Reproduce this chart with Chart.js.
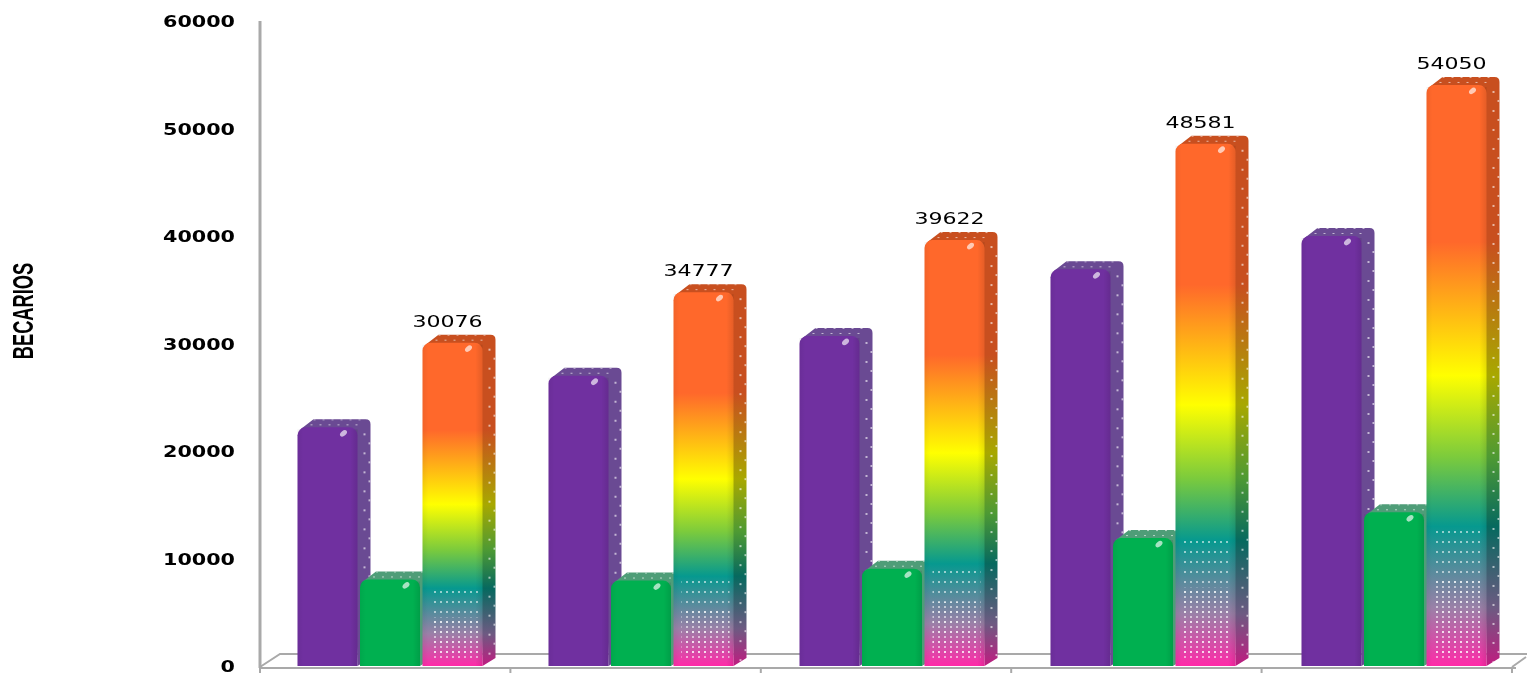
<!DOCTYPE html>
<html>
<head>
<meta charset="utf-8">
<style>
  html, body { margin: 0; padding: 0; background: #fff; overflow: hidden; }
  #wrap { width: 1527px; height: 673px; }
</style>
<script src="https://cdn.jsdelivr.net/npm/chart.js@4"></script>
</head>
<body>
<div id="wrap"><canvas id="chart" width="1527" height="673"></canvas></div>
<script>
// values (x labels are cropped off in the original)
const categories = ['1', '2', '3', '4', '5'];
const purpleValues = [22200, 27000, 30700, 36900, 40000];
const greenValues = [8050, 7950, 9050, 11900, 14300];
const totalValues = [30076, 34777, 39622, 48581, 54050];
const yTicks = [0, 10000, 20000, 30000, 40000, 50000, 60000];
const axisTitle = 'BECARIOS';

const DX = 13, DY = 8;   // depth of the fake 3d

function rainbow(ctx, top, bottom, dark) {
  const g = ctx.createLinearGradient(0, top, 0, bottom);
  const stops = dark
    ? [[0, '#c84f1f'], [0.27, '#c84f1f'], [0.5, '#a8a800'], [0.64, '#4e9a33'], [0.76, '#06695f'], [0.9, '#6d5a82'], [1, '#c01c80']]
    : [[0, '#ff682b'], [0.27, '#ff682b'], [0.5, '#ffff00'], [0.64, '#7ccb3c'], [0.76, '#06998f'], [0.9, '#9b80a8'], [1, '#ff2aa8']];
  stops.forEach(s => g.addColorStop(s[0], s[1]));
  return g;
}

// white dot raster for the lower part of the rainbow bars
function dotPattern(ctx, size) {
  const c = document.createElement('canvas');
  c.width = 6; c.height = size;
  const p = c.getContext('2d');
  p.fillStyle = 'rgba(255,255,255,0.55)';
  p.fillRect(2, 1, 2, 2);
  return ctx.createPattern(c, 'repeat');
}

function stretchedText(ctx, text, x, y, sx, align) {
  ctx.save();
  ctx.translate(x, y);
  ctx.scale(sx, 1);
  ctx.textAlign = align;
  ctx.textBaseline = 'middle';
  ctx.fillText(text, 0, 0);
  ctx.restore();
}

// side and top panel of one bar, taken from the bar element
function drawSide(ctx, el, color) {
  const l = el.x - el.width / 2, r = el.x + el.width / 2, t = el.y, b = el.base;
  ctx.save();
  ctx.beginPath();
  ctx.moveTo(l + 3, t + 2);
  ctx.lineTo(l + 3 + DX, t - DY);
  ctx.lineTo(r + DX - 5, t - DY);
  ctx.quadraticCurveTo(r + DX, t - DY, r + DX, t - DY + 5);
  ctx.lineTo(r + DX, b - DY);
  ctx.lineTo(r, b);
  ctx.lineTo(r - 6, t + 4);
  ctx.closePath();
  ctx.fillStyle = color === 'rainbow' ? rainbow(ctx, t, b, true) : color;
  ctx.fill();
  ctx.clip();
  // white speckle down the side and over the top
  ctx.fillStyle = 'rgba(255,255,255,0.6)';
  for (let yy = t + 6; yy < b - 2; yy += 19) {
    ctx.fillRect(r + 6, yy, 2, 2);
    ctx.fillRect(r + 11, yy + 9, 2, 2);
  }
  for (let xx = l + 16; xx < r + 8; xx += 9) {
    ctx.fillRect(xx, t - DY, 2, 1);
    ctx.fillRect(xx - 3, t - 3, 2, 1);
  }
  ctx.restore();
}

// floor, wall, tick marks and the side panels, all behind the bar fronts
const frame = {
  id: 'frame',
  beforeDatasetsDraw(chart) {
    const { ctx, chartArea: a } = chart;
    const y = chart.scales.y;
    const x0 = a.left - 4.5, step = 250.4, base = y.getPixelForValue(0);
    ctx.save();
    ctx.strokeStyle = '#a9a9a9';
    ctx.lineWidth = 3;
    ctx.beginPath(); ctx.moveTo(x0, y.getPixelForValue(60000)); ctx.lineTo(x0, base + 2); ctx.stroke();
    ctx.lineWidth = 2;
    ctx.beginPath(); ctx.moveTo(x0, base + 2); ctx.lineTo(x0 + 5 * step + 4, base + 2); ctx.stroke();
    ctx.beginPath(); ctx.moveTo(x0, base + 1); ctx.lineTo(x0 + 20, base - 12); ctx.lineTo(1527, base - 12); ctx.stroke();
    ctx.beginPath(); ctx.moveTo(x0 + 5 * step, base + 1); ctx.lineTo(x0 + 5 * step + 14, base - 9); ctx.stroke();
    categories.concat(['']).forEach((c, i) => {
      ctx.beginPath(); ctx.moveTo(x0 + i * step, base + 2); ctx.lineTo(x0 + i * step, 673); ctx.stroke();
    });
    ctx.restore();
    chart.data.datasets.forEach((ds, i) => {
      chart.getDatasetMeta(i).data.forEach(el => drawSide(ctx, el, ds.sideColor));
    });
  },
  afterDatasetDraw(chart, args) {
    const { ctx } = chart;
    const ds = chart.data.datasets[args.index];
    args.meta.data.forEach(el => {
      const l = el.x - el.width / 2, r = el.x + el.width / 2, t = el.y, b = el.base;
      ctx.save();
      if (ds.sideColor === 'rainbow') {
        const h = b - t;
        ctx.fillStyle = dotPattern(ctx, 10);
        ctx.fillRect(l + 8, b - h * 0.24, el.width - 12, h * 0.24 - 5);
        ctx.fillStyle = dotPattern(ctx, 5);
        ctx.fillRect(l + 8, b - h * 0.15, el.width - 12, h * 0.15 - 5);
      }
      // soft darker edges so the face looks rounded
      const shade = ctx.createLinearGradient(l, 0, r, 0);
      shade.addColorStop(0, 'rgba(0,0,0,0.05)');
      shade.addColorStop(0.1, 'rgba(0,0,0,0)');
      shade.addColorStop(0.88, 'rgba(0,0,0,0)');
      shade.addColorStop(1, 'rgba(0,0,0,0.1)');
      ctx.fillStyle = shade;
      ctx.fillRect(l, t + 2, el.width, b - t - 2);
      // small specular highlight
      ctx.fillStyle = 'rgba(255,255,255,0.65)';
      ctx.beginPath();
      ctx.ellipse(r - 14, t + 6, 4, 2.5, -0.7, 0, Math.PI * 2);
      ctx.fill();
      ctx.restore();
    });
  },
  afterDraw(chart) {
    const { ctx } = chart;
    const y = chart.scales.y;
    ctx.save();
    ctx.fillStyle = '#000';
    ctx.font = 'bold 15px "DejaVu Sans"';
    y.ticks.forEach(t => stretchedText(ctx, String(t.value), 235, y.getPixelForValue(t.value) + 2.5, 1.38, 'right'));

    ctx.font = '400 16px "DejaVu Sans"';
    chart.getDatasetMeta(2).data.forEach((el, i) => {
      stretchedText(ctx, String(totalValues[i]), el.x - 5, el.y - 20, 1.38, 'center');
    });

    ctx.translate(25, 311);
    ctx.rotate(-Math.PI / 2);
    ctx.font = 'bold 29px "Liberation Sans"';
    ctx.scale(0.63, 1);
    ctx.textAlign = 'center';
    ctx.textBaseline = 'middle';
    ctx.fillText(axisTitle, 0, 0);
    ctx.restore();
  }
};

const cv = document.getElementById('chart');
new Chart(cv, {
  type: 'bar',
  data: {
    labels: categories,
    datasets: [
      { label: 'A', data: purpleValues, backgroundColor: '#7030a0', sideColor: '#6a4a93' },
      { label: 'B', data: greenValues, backgroundColor: '#00b050', sideColor: '#4f9d78' },
      {
        label: 'Total',
        data: totalValues,
        sideColor: 'rainbow',
        backgroundColor(c) {
          const y = c.chart.scales.y;
          if (!y || !c.parsed) return '#ff682b';
          const top = y.getPixelForValue(c.parsed.y), bottom = y.getPixelForValue(0);
          if (!Number.isFinite(top) || !Number.isFinite(bottom)) return '#ff682b';
          return rainbow(c.chart.ctx, top, bottom, false);
        }
      }
    ]
  },
  options: {
    responsive: false,
    animation: false,
    layout: { padding: { left: 264.5, right: 7.5, top: 21, bottom: 7 } },
    categoryPercentage: 0.747,
    barPercentage: 0.96,
    borderRadius: { topLeft: 8, topRight: 8, bottomLeft: 0, bottomRight: 0 },
    borderSkipped: 'bottom',
    plugins: { legend: { display: false }, tooltip: { enabled: false } },
    scales: {
      x: { display: false },
      y: {
        display: false,
        min: 0, max: 60000,
        afterBuildTicks(s) { s.ticks = yTicks.map(v => ({ value: v })); }
      }
    }
  },
  plugins: [frame]
});
</script>
</body>
</html>
